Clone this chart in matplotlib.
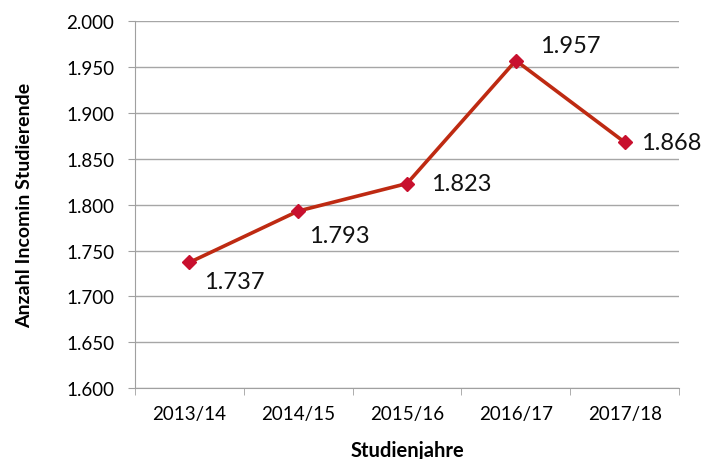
import matplotlib.pyplot as plt
import numpy as np

plt.rcParams['font.family'] = ['Lato', 'DejaVu Sans']

years = ["2013/14", "2014/15", "2015/16", "2016/17", "2017/18"]
students = [1737, 1793, 1823, 1957, 1868]
# label offsets in pixels (dx, dy) relative to each point
label_offsets = [(15, -19), (11, -24), (24, 0), (24, 15), (16, 0)]

fmt = lambda v: f"{v:,}".replace(",", ".")

fig = plt.figure(figsize=(7.03, 4.60), dpi=100)
ax = fig.add_axes([0.192, 0.154, 0.774, 0.798])

x = np.arange(len(years))
ax.plot(x, students, color="#BE2A12", lw=2.6, zorder=3)
ax.plot(x, students, ls="none", marker="D", ms=7.5, color="#C8102E", zorder=4)

for xi, v, (dx, dy) in zip(x, students, label_offsets):
    ax.annotate(fmt(v), (xi, v), xytext=(dx, dy), textcoords="offset pixels",
                ha="left", va="center", fontsize=17, color="#111111")

ax.set_xlim(-0.5, len(years) - 0.5)
ax.set_ylim(1600, 2000)
yt = np.arange(1600, 2001, 50)
ax.set_yticks(yt)
ax.set_yticklabels([fmt(v) for v in yt])
ax.set_xticks(x)
ax.set_xticklabels(years)
ax.set_xticks(np.arange(-0.5, len(years)), minor=True)
ax.tick_params(axis="x", which="major", length=0, pad=12, labelsize=13.5)
ax.tick_params(axis="x", which="minor", length=5, color="#A0A0A0")
ax.tick_params(axis="y", length=5, color="#A0A0A0", labelsize=13.5, pad=10)

ax.grid(axis="y", color="#A6A6A6", lw=1)
ax.set_axisbelow(True)
for s in ["top", "right"]:
    ax.spines[s].set_visible(False)
for s in ["left", "bottom"]:
    ax.spines[s].set_color("#A0A0A0")

ax.set_xlabel("Studienjahre", fontsize=14.5, fontweight="bold", labelpad=13)
ax.set_ylabel("Anzahl Incomin Studierende", fontsize=14, fontweight="bold", labelpad=24)

fig.savefig("out.png", dpi=100)
